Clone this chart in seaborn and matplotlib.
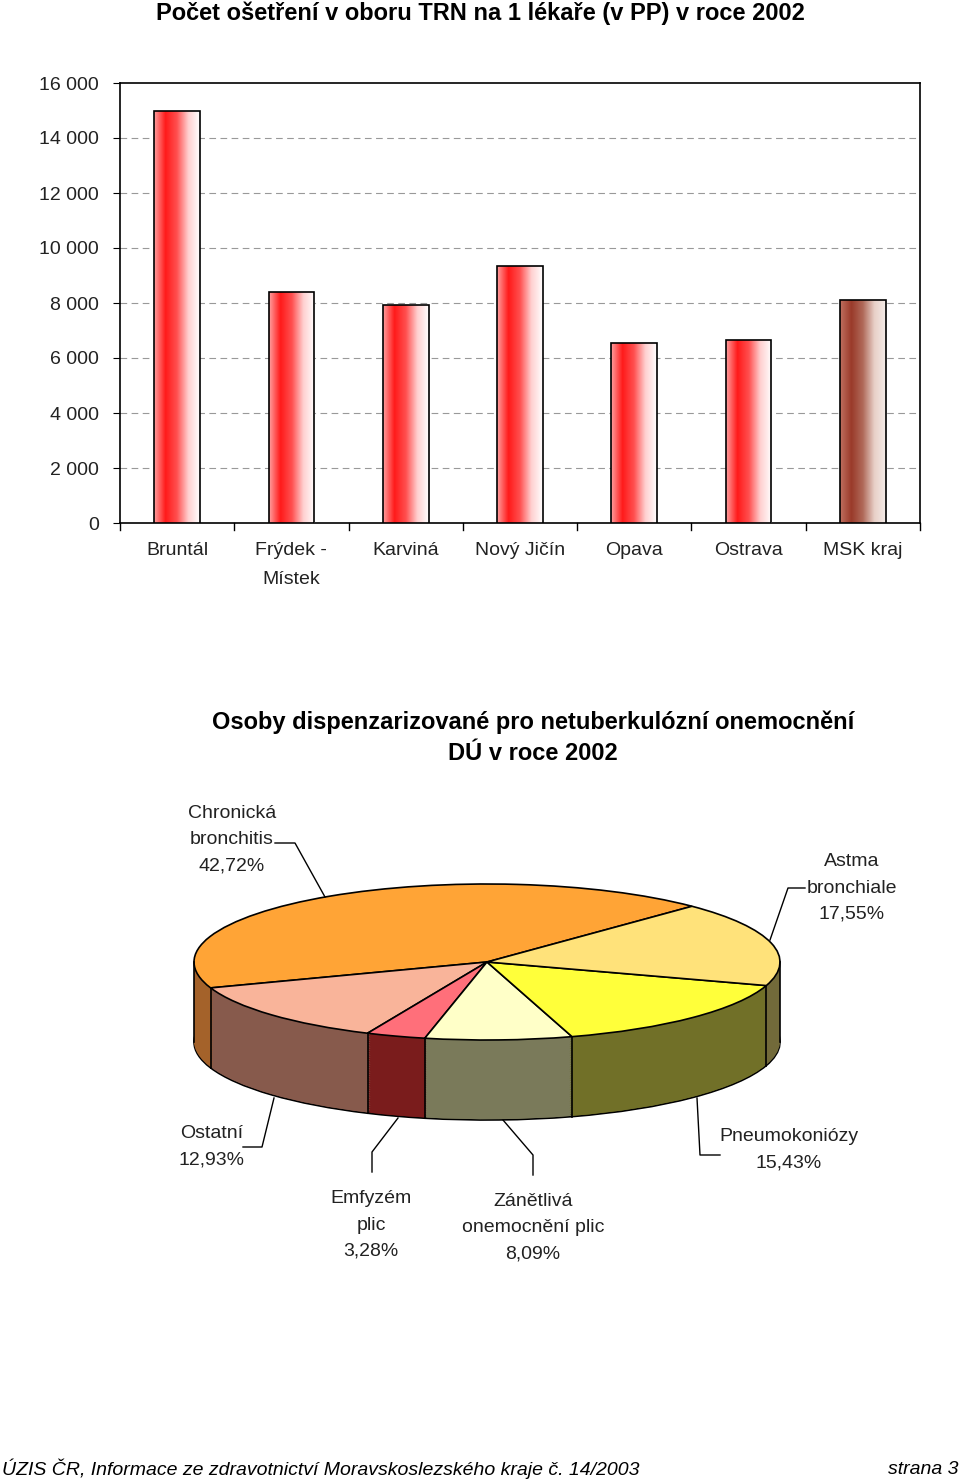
import numpy as np
import pandas as pd
import matplotlib
matplotlib.use("Agg")
import matplotlib.pyplot as plt
import seaborn as sns
from matplotlib.colors import LinearSegmentedColormap
from matplotlib.lines import Line2D

plt.rc('font', family='Liberation Sans')

# data
okresy = ['Bruntál', 'Frýdek -\nMístek', 'Karviná', 'Nový Jičín', 'Opava', 'Ostrava', 'MSK kraj']
osetreni = [14980, 8400, 7930, 9345, 6545, 6655, 8110]
y_ticks = [0, 2000, 4000, 6000, 8000, 10000, 12000, 14000, 16000]

nemoci = ['Chronická\nbronchitis\n42,72%', 'Ostatní\n12,93%', 'Emfyzém\nplic\n3,28%',
          'Zánětlivá\nonemocnění plic\n8,09%', 'Pneumokoniózy\n15,43%', 'Astma\nbronchiale\n17,55%']
podily = [42.72, 12.93, 3.28, 8.09, 15.43, 17.55]
barvy_vrch = ['#ffa436', '#f9b49a', '#ff6f7a', '#ffffc8', '#ffff3a', '#ffe27a']
barvy_bok = ['#a4622a', '#875a4c', '#7a1c1c', '#7a7a5a', '#717028', '#726a3a']
start = 45.6

W, H = 960, 1483
fig = plt.figure(figsize=(W / 100, H / 100), dpi=100)

def fx(x):
    return x / W

def fy(y):
    return 1 - y / H

# --- sloupcový graf ---
ax = fig.add_axes([fx(120), fy(523), fx(800), (523 - 83) / H])
df = pd.DataFrame({'okres': okresy, 'pocet': osetreni})
sns.barplot(data=df, x='okres', y='pocet', ax=ax, width=0.4, color='white',
            edgecolor='black', linewidth=1.2, zorder=3)

red = LinearSegmentedColormap.from_list('r', ['#ffa0a0', '#ff1a1a', '#ff5050', '#ffd0d0', '#ffffff'])
brown = LinearSegmentedColormap.from_list('b', ['#c07060', '#9a3a2a', '#b06a5a', '#e8d0c8', '#f4ece8'])
grad = np.linspace(0, 1, 256).reshape(1, -1)
for i, p in enumerate(ax.patches[:len(okresy)]):
    x0, w, h = p.get_x(), p.get_width(), p.get_height()
    im = ax.imshow(grad, cmap=brown if i == len(okresy) - 1 else red, aspect='auto',
                   extent=[x0, x0 + w, 0, h], zorder=3.5)
    im.set_clip_path(p)
    p.set_facecolor('none')
    p.set_zorder(4)
ax.set_xlim(-0.5, len(okresy) - 0.5)
ax.set_ylim(0, 16000)

ax.set_yticks(y_ticks)
ax.set_yticklabels([f'{v:,}'.replace(',', ' ') for v in y_ticks], fontsize=14, color='#222222')
ax.set_xticks(range(len(okresy)))
ax.set_xticklabels(okresy, fontsize=14, linespacing=1.9, va='top', color='#222222')
ax.tick_params(axis='x', length=0, pad=14)
ax.tick_params(axis='y', length=5, pad=10)
for xb in np.arange(-0.5, len(okresy), 1):
    ax.plot([xb, xb], [0, -250], color='black', lw=1, clip_on=False)
ax.set_xlabel('')
ax.set_ylabel('')
for v in y_ticks[1:-1]:
    ax.axhline(v, color='#999999', lw=0.8, ls=(0, (6, 4)), zorder=1)
for s in ax.spines.values():
    s.set_linewidth(1.2)

fig.text(0.5, fy(13), 'Počet ošetření v oboru TRN na 1 lékaře (v PP) v roce 2002',
         ha='center', va='center', fontsize=17, fontweight='bold')

# --- koláčový graf (pseudo 3D) ---
cx, cy, rx, ry = 487, 962, 293, 78
ax2 = fig.add_axes([fx(150), fy(1140), fx(680), 270 / H])
hloubka = 80 / ry
ax2.pie(podily, colors=barvy_bok, startangle=start, counterclock=True,
        center=(0, -hloubka), wedgeprops=dict(linewidth=1.2, edgecolor='black'))
for d in np.linspace(hloubka - 0.01, 0.01, 45):
    ax2.pie(podily, colors=barvy_bok, startangle=start, counterclock=True,
            center=(0, -d), wedgeprops=dict(linewidth=0))
# svislé hrany na přední straně
hrany = start + np.cumsum([0] + podily) * 3.6
for a in list(hrany) + [180, 360]:
    ar = np.deg2rad(a)
    if np.sin(ar) <= 0.001:
        ax2.plot([np.cos(ar)] * 2, [np.sin(ar), np.sin(ar) - hloubka], color='black', lw=1.2, zorder=5)
ax2.pie(podily, colors=barvy_vrch, startangle=start, counterclock=True,
        wedgeprops=dict(linewidth=1.2, edgecolor='black'))
ax2.set_aspect('auto')
ax2.set_xlim((150 - cx) / rx, (830 - cx) / rx)
ax2.set_ylim((cy - 1140) / ry, (cy - 870) / ry)
ax2.axis('off')

fig.text(0.555, fy(722), 'Osoby dispenzarizované pro netuberkulózní onemocnění',
         ha='center', va='center', fontsize=17, fontweight='bold')
fig.text(0.555, fy(754), 'DÚ v roce 2002', ha='center', va='center', fontsize=17, fontweight='bold')

popisky = [(232, 840), (212, 1147), (371, 1225), (533, 1228), (789, 1150), (852, 888)]
vodici = [[(275, 843), (295, 843), (325, 897)],
          [(243, 1147), (262, 1147), (274, 1098)],
          [(372, 1172), (372, 1152), (398, 1118)],
          [(533, 1175), (533, 1155), (503, 1120)],
          [(720, 1155), (700, 1155), (697, 1098)],
          [(805, 888), (788, 888), (770, 940)]]
for txt, (px, py), line in zip(nemoci, popisky, vodici):
    fig.text(fx(px), fy(py), txt, ha='center', va='center', fontsize=14, linespacing=1.7,
             color='#222222')
    fig.add_artist(Line2D([fx(p[0]) for p in line], [fy(p[1]) for p in line],
                          color='black', lw=1, transform=fig.transFigure))

fig.text(0.002, fy(1469), 'ÚZIS ČR, Informace ze zdravotnictví Moravskoslezského kraje č. 14/2003',
         ha='left', va='center', fontsize=14, style='italic')
fig.text(0.998, fy(1469), 'strana 3', ha='right', va='center', fontsize=14, style='italic')

fig.savefig('out.png', dpi=100)
